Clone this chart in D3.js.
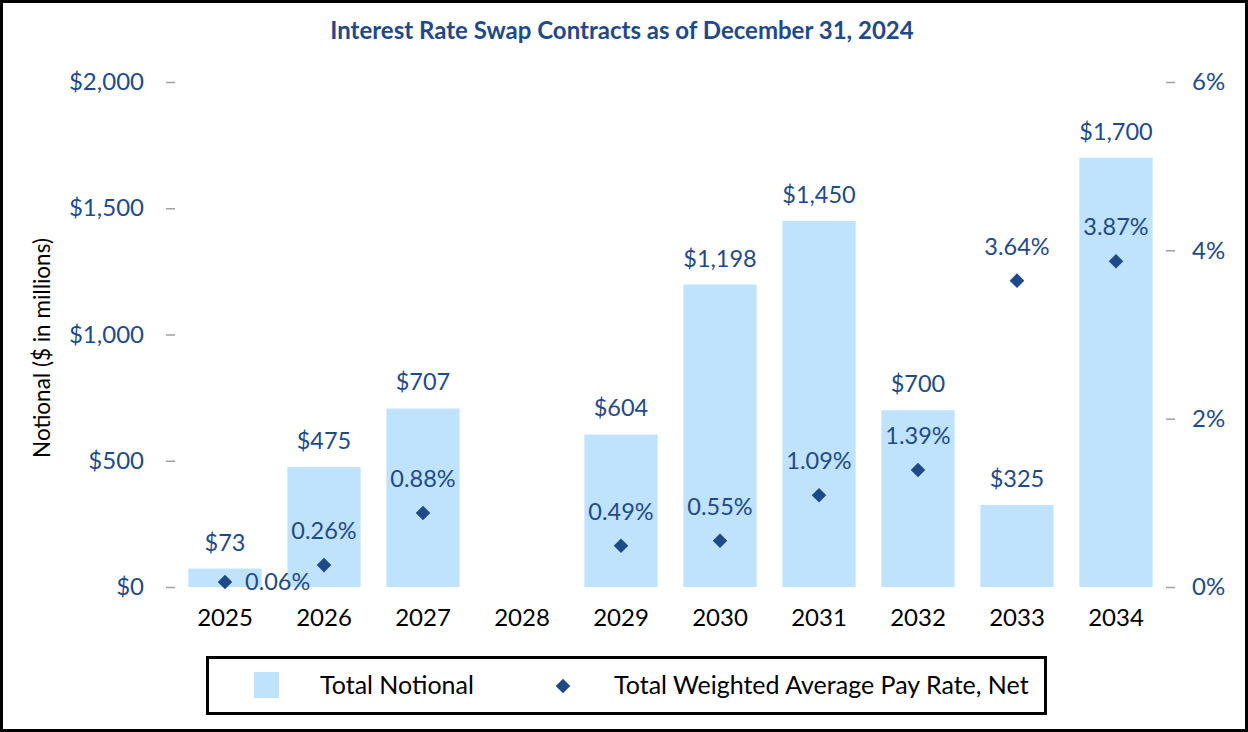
<!DOCTYPE html>
<html>
<head>
<meta charset="utf-8">
<script src="https://cdn.jsdelivr.net/npm/d3@7"></script>
<style>
  body { margin: 0; background: #fff; }
  svg text { font-family: Lato, "Open Sans", sans-serif; }
</style>
</head>
<body>
<div id="chart"></div>
<script>
// donnees
const annees = ["2025", "2026", "2027", "2028", "2029", "2030", "2031", "2032", "2033", "2034"];
const notionnel = [73, 475, 707, null, 604, 1198, 1450, 700, 325, 1700];
const taux = [0.06, 0.26, 0.88, null, 0.49, 0.55, 1.09, 1.39, 3.64, 3.87];
const ticksGauche = [0, 500, 1000, 1500, 2000];
const ticksDroite = [0, 2, 4, 6];

const W = 1248, H = 732;
const bleuFonce = "#1f4a87", bleuClair = "#bfe3fc";

const svg = d3.select("#chart").append("svg").attr("width", W).attr("height", H);

// cadre exterieur
svg.append("rect").attr("x", 1.5).attr("y", 1.5).attr("width", W - 3).attr("height", H - 3)
    .attr("fill", "white").attr("stroke", "black").attr("stroke-width", 3);

svg.append("text").attr("x", 622).attr("y", 39).attr("text-anchor", "middle")
    .attr("font-size", 24).attr("font-weight", "bold").attr("fill", bleuFonce)
    .text("Interest Rate Swap Contracts as of December 31, 2024");

const x = d3.scaleBand().domain(annees).range([175.5, 1165.5]).paddingInner(0.26).paddingOuter(0.13);
const y = d3.scaleLinear().domain([0, 2000]).range([587, 82]);
const y2 = d3.scaleLinear().domain([0, 6]).range([587, 82]);

// axes
const axeG = svg.append("g").attr("transform", "translate(176,0)")
    .call(d3.axisLeft(y).tickValues(ticksGauche).tickSize(10).tickPadding(22)
        .tickFormat(d => "$" + d3.format(",")(d)));
const axeD = svg.append("g").attr("transform", "translate(1165,0)")
    .call(d3.axisRight(y2).tickValues(ticksDroite).tickSize(10).tickPadding(17)
        .tickFormat(d => d + "%"));
[axeG, axeD].forEach(a => {
    a.select(".domain").remove();
    a.selectAll("line").attr("stroke", "#a0a0a0").attr("stroke-width", 1.5);
    a.selectAll("text").attr("font-size", 24).attr("fill", bleuFonce);
});
axeG.selectAll(".tick line").attr("x1", -10).attr("x2", -1);
axeD.selectAll(".tick line").attr("x1", 1).attr("x2", 10);

const axeX = svg.append("g").attr("transform", "translate(0,587)")
    .call(d3.axisBottom(x).tickSize(0).tickPadding(22));
axeX.select(".domain").remove();
axeX.selectAll("text").attr("font-size", 24).attr("fill", "black");

svg.append("text").attr("transform", "translate(50,348) rotate(-90)")
    .attr("text-anchor", "middle").attr("font-size", 22.5).attr("fill", "black")
    .text("Notional ($ in millions)");

const donnees = annees.map((a, i) => ({annee: a, n: notionnel[i], t: taux[i]}));

// barres
svg.selectAll(".barre").data(donnees.filter(d => d.n != null)).enter().append("rect")
    .attr("class", "barre")
    .attr("x", d => x(d.annee)).attr("width", x.bandwidth())
    .attr("y", d => y(d.n)).attr("height", d => y(0) - y(d.n))
    .attr("fill", bleuClair);

svg.selectAll(".lblN").data(donnees.filter(d => d.n != null)).enter().append("text")
    .attr("x", d => x(d.annee) + x.bandwidth() / 2).attr("y", d => y(d.n) - 18)
    .attr("text-anchor", "middle").attr("font-size", 23.5).attr("fill", bleuFonce)
    .text(d => "$" + d3.format(",")(d.n));

// losanges
const losange = d3.symbol().type(d3.symbolDiamond2).size(135);
svg.selectAll(".pt").data(donnees.filter(d => d.t != null)).enter().append("path")
    .attr("transform", d => "translate(" + (x(d.annee) + x.bandwidth() / 2) + "," + y2(d.t) + ")")
    .attr("d", losange).attr("fill", bleuFonce);

svg.selectAll(".lblT").data(donnees.filter(d => d.t != null)).enter().append("text")
    .attr("x", d => x(d.annee) + x.bandwidth() / 2 + (d.annee == "2025" ? 20 : 0))
    .attr("y", d => d.annee == "2025" ? y2(d.t) + 8 : y2(d.t) - 26)
    .attr("text-anchor", d => d.annee == "2025" ? "start" : "middle")
    .attr("font-size", 23.5).attr("fill", bleuFonce)
    .text(d => d.t.toFixed(2) + "%");

// legende
const leg = svg.append("g");
leg.append("rect").attr("x", 207.5).attr("y", 657.5).attr("width", 838).attr("height", 56)
    .attr("fill", "white").attr("stroke", "black").attr("stroke-width", 3);
leg.append("rect").attr("x", 254).attr("y", 672).attr("width", 25).attr("height", 26).attr("fill", bleuClair);
leg.append("text").attr("x", 320).attr("y", 694).attr("font-size", 25).attr("fill", "black").text("Total Notional");
leg.append("path").attr("transform", "translate(563,686)").attr("d", losange).attr("fill", bleuFonce);
leg.append("text").attr("x", 614).attr("y", 694).attr("font-size", 25).attr("fill", "black").text("Total Weighted Average Pay Rate, Net");
</script>
</body>
</html>
